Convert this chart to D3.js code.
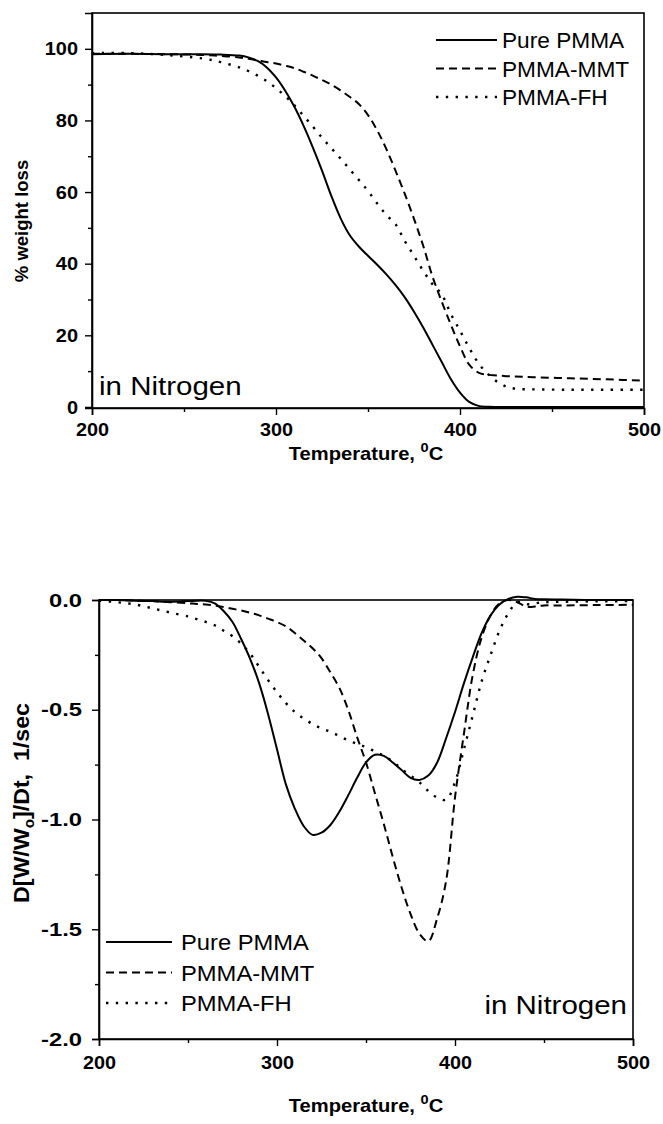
<!DOCTYPE html>
<html>
<head>
<meta charset="utf-8">
<script src="https://cdn.jsdelivr.net/npm/d3@7"></script>
<style>
  html, body { margin: 0; padding: 0; background: #fff; }
  svg { display: block; }
  text { font-family: "Liberation Sans", Arial, sans-serif; fill: #000; }
</style>
</head>
<body>
<svg id="fig" width="663" height="1124"></svg>
<script>
// ---- Series names ----
const seriesNames = ["Pure PMMA", "PMMA-MMT", "PMMA-FH"];

// ---- TGA: weight remaining (%) vs temperature (°C), nitrogen ----
const tgaTemp = [200,220,240,260,270,280,285,290,295,300,305,310,315,320,325,330,335,340,345,350,
                 355,360,365,370,375,380,385,390,395,400,405,410,415,420,425,430,440,460,480,500];
const tgaPure = [98.5,98.6,98.5,98.5,98.4,98.1,97.6,96.6,94.8,92.0,88.3,83.8,78.5,72.5,66.0,59.0,52.8,48.0,44.8,42.2,
                 39.7,37.0,34.0,30.6,26.6,22.2,17.4,12.6,7.8,4.0,1.4,0.3,0.05,0,0,0,0,0,0,0];
const tgaMmt  = [98.6,98.6,98.5,98.3,98.0,97.6,97.2,96.8,96.3,95.9,95.3,94.6,93.6,92.5,91.3,90.0,88.4,86.6,84.6,81.5,
                 77.2,72.0,65.9,59.5,52.5,45.0,36.5,29.5,23.0,16.9,11.8,9.6,9.0,8.8,8.6,8.5,8.3,8.0,7.7,7.3];
const tgaFh   = [98.8,98.8,98.3,97.3,96.3,94.8,93.8,92.5,91.0,89.0,86.8,84.2,81.3,78.3,75.2,72.3,69.4,66.4,63.4,60.3,
                 56.8,53.6,51.0,46.3,42.2,38.0,34.3,31.5,26.0,21.3,16.5,12.2,9.3,7.1,5.7,5.1,4.9,4.8,4.8,4.8];

// ---- DTG: rate of weight change (1/sec) vs temperature (°C), nitrogen ----
const dtgTemp = [200,210,220,230,240,250,255,260,265,270,275,280,285,290,295,300,305,310,315,320,325,330,335,340,345,
                 350,355,360,365,370,375,380,385,390,395,400,405,410,415,420,425,430,435,440,445,450,460,480,500];
const dtgPure = [0,0,-0.003,-0.005,-0.008,-0.005,-0.003,-0.004,-0.015,-0.05,-0.10,-0.18,-0.27,-0.38,-0.52,-0.68,-0.84,-0.95,-1.03,-1.07,-1.06,-1.025,-0.965,-0.89,-0.81,
                 -0.74,-0.705,-0.71,-0.74,-0.775,-0.81,-0.82,-0.80,-0.74,-0.63,-0.51,-0.38,-0.26,-0.15,-0.07,-0.02,0.005,0.015,0.012,0.005,0.003,0.002,0,0];
const dtgMmt  = [0,0,-0.003,-0.005,-0.01,-0.015,-0.018,-0.02,-0.025,-0.032,-0.04,-0.048,-0.058,-0.07,-0.085,-0.10,-0.12,-0.15,-0.185,-0.22,-0.265,-0.33,-0.40,-0.50,-0.625,
                 -0.74,-0.88,-1.02,-1.17,-1.31,-1.43,-1.52,-1.555,-1.45,-1.28,-0.90,-0.61,-0.34,-0.17,-0.07,-0.015,0,-0.01,-0.03,-0.03,-0.025,-0.025,-0.023,-0.022];
const dtgFh   = [-0.003,-0.01,-0.02,-0.038,-0.057,-0.075,-0.087,-0.10,-0.115,-0.14,-0.165,-0.20,-0.245,-0.305,-0.365,-0.42,-0.47,-0.51,-0.54,-0.565,-0.585,-0.60,-0.62,-0.64,-0.655,
                 -0.67,-0.69,-0.71,-0.735,-0.77,-0.80,-0.83,-0.87,-0.90,-0.91,-0.83,-0.68,-0.525,-0.37,-0.25,-0.14,-0.06,-0.01,-0.02,-0.015,-0.01,-0.008,-0.006,-0.005];

// ---- Axis ticks ----
const tempTicks = [200, 300, 400, 500];
const tempMinor = [250, 350, 450];
const tgaTicks = [0, 20, 40, 60, 80, 100];
const tgaMinor = [10, 30, 50, 70, 90];
const dtgTicks = [0, -0.5, -1.0, -1.5, -2.0];
const dtgMinor = [-0.25, -0.75, -1.25, -1.75];

const styles = [
  { width: 2.0, dash: null },
  { width: 2.0, dash: "8,5" },
  { width: 2.4, dash: "2.4,7.4" }
];

const svg = d3.select("#fig");
const FONT = '"Liberation Sans", Arial, sans-serif';

// Text with a slight horizontal stretch, as in the printed figure
function label(parent, x, y, str, o = {}) {
  return parent.append("text")
    .attr("transform", `translate(${x},${y}) scale(${o.sx || 1},1)`)
    .attr("text-anchor", o.anchor || "start")
    .attr("font-size", o.size || 18)
    .attr("font-weight", o.weight || "normal")
    .text(str);
}

// Restyle axis labels: bold, horizontally stretched about their anchor point
function styleTickText(axisG, size, sx) {
  axisG.selectAll("text").each(function () {
    const t = d3.select(this);
    const x0 = +t.attr("x") || 0;
    t.attr("x", 0)
      .attr("transform", `translate(${x0},0) scale(${sx},1)`)
      .attr("font-family", FONT).attr("font-size", size).attr("font-weight", "bold")
      .text(this.textContent.replace("\u2212", "-"));
  });
}

function drawPanel(cfg) {
  const g = svg.append("g");
  const x = d3.scaleLinear().domain([200, 500]).range([cfg.left, cfg.right]);
  const y = d3.scaleLinear().domain(cfg.yDomain).range([cfg.bottom, cfg.top]);

  // curves
  const series = [cfg.s0, cfg.s1, cfg.s2];
  series.forEach((vals, i) => {
    const pts = cfg.temps.map((t, k) => [t, vals[k]]);
    const line = d3.line().x(d => x(d[0])).y(d => y(d[1])).curve(d3.curveCatmullRom.alpha(0.5));
    g.append("path")
      .datum(pts)
      .attr("d", line)
      .attr("fill", "none")
      .attr("stroke", "#000")
      .attr("stroke-width", styles[i].width)
      .attr("stroke-linejoin", "round")
      .attr("stroke-dasharray", styles[i].dash);
  });

  // frame
  g.append("rect")
    .attr("x", cfg.left).attr("y", cfg.top)
    .attr("width", cfg.right - cfg.left).attr("height", cfg.bottom - cfg.top)
    .attr("fill", "none").attr("stroke", "#000").attr("stroke-width", 1.6);

  // x axis
  const xAx = g.append("g").attr("transform", `translate(0,${cfg.bottom})`)
    .call(d3.axisBottom(x).tickValues(tempTicks).tickSize(7).tickPadding(cfg.xPad).tickFormat(d3.format("d")));
  g.append("g").attr("transform", `translate(0,${cfg.bottom})`)
    .call(d3.axisBottom(x).tickValues(tempMinor).tickSize(4).tickFormat(""))
    .call(s => s.select(".domain").remove());
  // y axis
  const yAx = g.append("g").attr("transform", `translate(${cfg.left},0)`)
    .call(d3.axisLeft(y).tickValues(cfg.yTicks).tickSize(7).tickPadding(cfg.yPad).tickFormat(cfg.yFmt));
  g.append("g").attr("transform", `translate(${cfg.left},0)`)
    .call(d3.axisLeft(y).tickValues(cfg.yMinor).tickSize(4).tickFormat(""))
    .call(s => s.select(".domain").remove());

  g.selectAll(".tick line").attr("stroke-width", 1.4);
  g.selectAll(".domain").attr("stroke-width", 1.6);
  styleTickText(xAx, 18, 1.1);
  styleTickText(yAx, cfg.ySize, cfg.ySx);

  // x title with superscript degree mark
  const xt = g.append("text")
    .attr("transform", `translate(${cfg.xTitle[0]},${cfg.xTitle[1]}) scale(1.12,1)`)
    .attr("text-anchor", "middle").attr("font-size", 18).attr("font-weight", "bold");
  xt.append("tspan").text("Temperature, ");
  xt.append("tspan").attr("dy", -8).attr("font-size", 13).text("0");
  xt.append("tspan").attr("dy", 8).text("C");

  // legend
  const lg = cfg.legend;
  seriesNames.forEach((name, i) => {
    const ly = lg.y + i * lg.dy;
    g.append("line")
      .attr("x1", lg.x1).attr("x2", lg.x2).attr("y1", ly).attr("y2", ly)
      .attr("stroke", "#000").attr("stroke-width", styles[i].width)
      .attr("stroke-dasharray", styles[i].dash);
    label(g, lg.tx, ly + 8, name, { size: lg.size, sx: lg.sx });
  });

  // annotation
  label(g, cfg.note[0], cfg.note[1], "in Nitrogen", { size: 25, sx: 1.18, anchor: cfg.note[2] });

  return { g, x, y };
}

// ---- Upper panel: TGA ----
const tgaPanel = drawPanel({
  left: 92, right: 644, top: 13, bottom: 408,
  yDomain: [-0.3, 110],
  temps: tgaTemp, s0: tgaPure, s1: tgaMmt, s2: tgaFh,
  yTicks: tgaTicks, yMinor: tgaMinor, yFmt: d3.format("d"),
  ySize: 19, ySx: 1.05,
  xPad: 8, yPad: 7,
  xTitle: [366, 460],
  legend: { x1: 436, x2: 497, tx: 502, y: 40, dy: 28.5, size: 22, sx: 1.03 },
  note: [99, 395, "start"]
});
tgaPanel.g.append("text")
  .attr("transform", "translate(28,221) rotate(-90)")
  .attr("text-anchor", "middle").attr("font-size", 18.5).attr("font-weight", "bold")
  .text("% weight loss");

// ---- Lower panel: DTG ----
const dtgPanel = drawPanel({
  left: 99, right: 633, top: 600, bottom: 1039,
  yDomain: [-2.0, 0.0],
  temps: dtgTemp, s0: dtgPure, s1: dtgMmt, s2: dtgFh,
  yTicks: dtgTicks, yMinor: dtgMinor, yFmt: d3.format(".1f"),
  ySize: 19, ySx: 1.25,
  xPad: 10, yPad: 10,
  xTitle: [366, 1112],
  legend: { x1: 106, x2: 172, tx: 181, y: 942, dy: 30.5, size: 22, sx: 1.08 },
  note: [627, 1014, "end"]
});

const yt2 = dtgPanel.g.append("text")
  .attr("transform", "translate(29,803) rotate(-90) scale(1.08,1)")
  .attr("text-anchor", "middle").attr("font-size", 21.5).attr("font-weight", "bold");
yt2.append("tspan").text("D[W/W");
yt2.append("tspan").attr("dy", 5).attr("font-size", 14).text("o");
yt2.append("tspan").attr("dy", -5).text("]/Dt,\u00a0 1/sec");
</script>
</body>
</html>
